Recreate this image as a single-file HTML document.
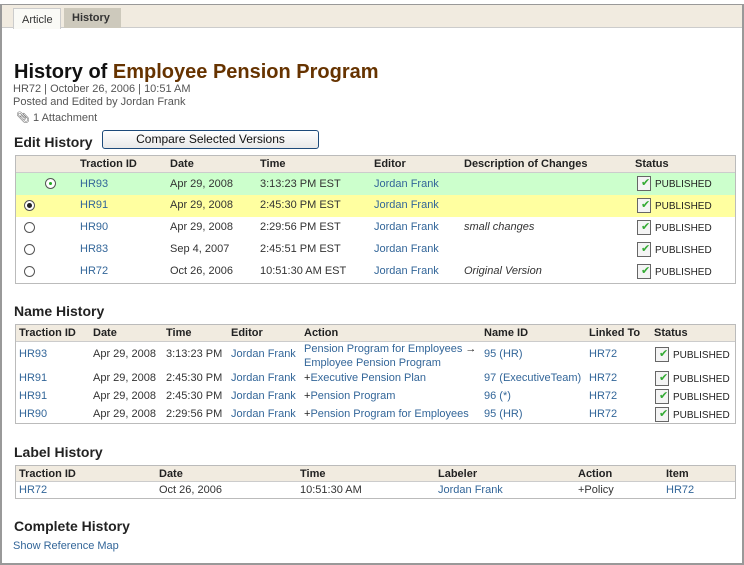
<!DOCTYPE html>
<html><head><meta charset="utf-8"><style>
*{margin:0;padding:0;box-sizing:border-box}
body{width:744px;height:565px;background:#fff;font-family:"Liberation Sans",sans-serif;font-size:11px;color:#333;position:relative;overflow:hidden}
.a{position:absolute;white-space:nowrap}
.l{color:#336699}
.b{font-weight:bold;color:#222}
.p{font-size:10px;color:#222}
.h{position:absolute;font-weight:bold;font-size:14px;color:#222}
.bx{position:absolute;border:1px solid #bbb}
.hd{position:absolute;background:#f1ebe0;border-bottom:1px solid #ccc}
.r{position:absolute;width:11px;height:11px;border:1px solid #555;border-radius:50%;background:#fff}
.ic{position:absolute;width:14px;height:15px;border:1px solid #666;background:#f4f4f4}
.ic:after{content:"✔";position:absolute;left:3px;top:-1px;color:#3a3;font-size:11px}
</style></head><body>
<div class="a" style="left:0;top:4px;width:744px;height:561px;border:2px solid #999;border-top:1px solid #999"></div>
<div class="a" style="left:2px;top:5px;width:740px;height:23px;background:#f1ebe0;border-bottom:1px solid #ccc"></div>
<div class="a" style="left:13px;top:8px;width:48px;height:21px;background:#fafaf6;border:1px solid #ccc;border-bottom:none;padding:5px 0 0 8px">Article</div>
<div class="a" style="left:64px;top:8px;width:57px;height:20px;background:#cdc9bc;padding:4px 0 0 8px;font-weight:bold;color:#333">History</div>
<div class="a" style="left:14px;top:61px;font-size:20px;font-weight:bold;color:#111">History of <span style="color:#663300">Employee Pension Program</span></div>
<div class="a" style="left:13px;top:83px;color:#555">HR72 | October 26, 2006 | 10:51 AM</div>
<div class="a" style="left:13px;top:96px;color:#555">Posted and Edited by Jordan Frank</div>
<div class="a" style="left:16px;top:111px;color:#555">&#x1F4CE;&#xFE0E; 1 Attachment</div>
<div class="h" style="left:14px;top:134px">Edit History</div>
<div class="a" style="left:102px;top:130px;width:217px;height:19px;border:1px solid #1d4a7a;border-radius:3px;background:linear-gradient(#fff,#e8e8e8);text-align:center;font-size:12px;line-height:17px;color:#111">Compare Selected Versions</div>

<div class="bx" style="left:15px;top:155px;width:721px;height:129px"></div>
<div class="hd" style="left:16px;top:156px;width:719px;height:17px"></div>
<div class="a" style="left:16px;top:173px;width:719px;height:22px;background:#ccffcc"></div>
<div class="a" style="left:16px;top:195px;width:719px;height:22px;background:#ffffa0"></div>
<div class="a b" style="left:80px;top:158px">Traction ID</div><div class="a b" style="left:170px;top:158px">Date</div><div class="a b" style="left:260px;top:158px">Time</div><div class="a b" style="left:374px;top:158px">Editor</div><div class="a b" style="left:464px;top:158px">Description of Changes</div><div class="a b" style="left:635px;top:158px">Status</div>
<div class="r" style="left:45px;top:178px"><div style="position:absolute;left:3px;top:3px;width:3px;height:3px;background:#2a2;border-radius:50%"></div></div>
<div class="r" style="left:24px;top:200px"><div style="position:absolute;left:2px;top:2px;width:5px;height:5px;background:#222;border-radius:50%"></div></div>
<div class="r" style="left:24px;top:222px"></div><div class="r" style="left:24px;top:244px"></div><div class="r" style="left:24px;top:266px"></div>

<div class="a l" style="left:80px;top:178px">HR93</div><div class="a" style="left:170px;top:178px">Apr 29, 2008</div><div class="a" style="left:260px;top:178px">3:13:23 PM EST</div><div class="a l" style="left:374px;top:178px">Jordan Frank</div>
<div class="a l" style="left:80px;top:199px">HR91</div><div class="a" style="left:170px;top:199px">Apr 29, 2008</div><div class="a" style="left:260px;top:199px">2:45:30 PM EST</div><div class="a l" style="left:374px;top:199px">Jordan Frank</div>
<div class="a l" style="left:80px;top:221px">HR90</div><div class="a" style="left:170px;top:221px">Apr 29, 2008</div><div class="a" style="left:260px;top:221px">2:29:56 PM EST</div><div class="a l" style="left:374px;top:221px">Jordan Frank</div><div class="a" style="left:464px;top:221px;font-style:italic">small changes</div>
<div class="a l" style="left:80px;top:243px">HR83</div><div class="a" style="left:170px;top:243px">Sep 4, 2007</div><div class="a" style="left:260px;top:243px">2:45:51 PM EST</div><div class="a l" style="left:374px;top:243px">Jordan Frank</div>
<div class="a l" style="left:80px;top:265px">HR72</div><div class="a" style="left:170px;top:265px">Oct 26, 2006</div><div class="a" style="left:260px;top:265px">10:51:30 AM EST</div><div class="a l" style="left:374px;top:265px">Jordan Frank</div><div class="a" style="left:464px;top:265px;font-style:italic">Original Version</div>
<div class="ic" style="left:637px;top:176px"></div><div class="a p" style="left:655px;top:179px">PUBLISHED</div>
<div class="ic" style="left:637px;top:198px"></div><div class="a p" style="left:655px;top:201px">PUBLISHED</div>
<div class="ic" style="left:637px;top:220px"></div><div class="a p" style="left:655px;top:223px">PUBLISHED</div>
<div class="ic" style="left:637px;top:242px"></div><div class="a p" style="left:655px;top:245px">PUBLISHED</div>
<div class="ic" style="left:637px;top:264px"></div><div class="a p" style="left:655px;top:267px">PUBLISHED</div>

<div class="h" style="left:14px;top:303px">Name History</div>
<div class="bx" style="left:15px;top:324px;width:721px;height:100px"></div>
<div class="hd" style="left:16px;top:325px;width:719px;height:17px"></div>
<div class="a b" style="left:19px;top:327px">Traction ID</div><div class="a b" style="left:93px;top:327px">Date</div><div class="a b" style="left:166px;top:327px">Time</div><div class="a b" style="left:231px;top:327px">Editor</div><div class="a b" style="left:304px;top:327px">Action</div><div class="a b" style="left:484px;top:327px">Name ID</div><div class="a b" style="left:589px;top:327px">Linked To</div><div class="a b" style="left:654px;top:327px">Status</div>
<div class="a l" style="left:19px;top:348px">HR93</div><div class="a" style="left:93px;top:348px">Apr 29, 2008</div><div class="a" style="left:166px;top:348px">3:13:23 PM</div><div class="a l" style="left:231px;top:348px">Jordan Frank</div><div class="a l" style="left:304px;top:342px;line-height:14px">Pension Program for Employees <span style="color:#222">→</span><br>Employee Pension Program</div><div class="a l" style="left:484px;top:348px">95 (HR)</div><div class="a l" style="left:589px;top:348px">HR72</div>
<div class="a l" style="left:19px;top:372px">HR91</div><div class="a" style="left:93px;top:372px">Apr 29, 2008</div><div class="a" style="left:166px;top:372px">2:45:30 PM</div><div class="a l" style="left:231px;top:372px">Jordan Frank</div><div class="a l" style="left:304px;top:372px"><span style="color:#222">+</span>Executive Pension Plan</div><div class="a l" style="left:484px;top:372px">97 (ExecutiveTeam)</div><div class="a l" style="left:589px;top:372px">HR72</div>
<div class="a l" style="left:19px;top:390px">HR91</div><div class="a" style="left:93px;top:390px">Apr 29, 2008</div><div class="a" style="left:166px;top:390px">2:45:30 PM</div><div class="a l" style="left:231px;top:390px">Jordan Frank</div><div class="a l" style="left:304px;top:390px"><span style="color:#222">+</span>Pension Program</div><div class="a l" style="left:484px;top:390px">96 (*)</div><div class="a l" style="left:589px;top:390px">HR72</div>
<div class="a l" style="left:19px;top:408px">HR90</div><div class="a" style="left:93px;top:408px">Apr 29, 2008</div><div class="a" style="left:166px;top:408px">2:29:56 PM</div><div class="a l" style="left:231px;top:408px">Jordan Frank</div><div class="a l" style="left:304px;top:408px"><span style="color:#222">+</span>Pension Program for Employees</div><div class="a l" style="left:484px;top:408px">95 (HR)</div><div class="a l" style="left:589px;top:408px">HR72</div>
<div class="ic" style="left:655px;top:347px"></div><div class="a p" style="left:673px;top:350px">PUBLISHED</div>
<div class="ic" style="left:655px;top:371px"></div><div class="a p" style="left:673px;top:374px">PUBLISHED</div>
<div class="ic" style="left:655px;top:389px"></div><div class="a p" style="left:673px;top:392px">PUBLISHED</div>
<div class="ic" style="left:655px;top:407px"></div><div class="a p" style="left:673px;top:410px">PUBLISHED</div>

<div class="h" style="left:14px;top:444px">Label History</div>
<div class="bx" style="left:15px;top:465px;width:721px;height:34px"></div>
<div class="hd" style="left:16px;top:466px;width:719px;height:16px"></div>
<div class="a b" style="left:19px;top:468px">Traction ID</div><div class="a b" style="left:159px;top:468px">Date</div><div class="a b" style="left:300px;top:468px">Time</div><div class="a b" style="left:438px;top:468px">Labeler</div><div class="a b" style="left:578px;top:468px">Action</div><div class="a b" style="left:666px;top:468px">Item</div>
<div class="a l" style="left:19px;top:484px">HR72</div><div class="a" style="left:159px;top:484px">Oct 26, 2006</div><div class="a" style="left:300px;top:484px">10:51:30 AM</div><div class="a l" style="left:438px;top:484px">Jordan Frank</div><div class="a" style="left:578px;top:484px">+Policy</div><div class="a l" style="left:666px;top:484px">HR72</div>

<div class="h" style="left:14px;top:518px">Complete History</div>
<div class="a l" style="left:13px;top:540px">Show Reference Map</div>
</body></html>
